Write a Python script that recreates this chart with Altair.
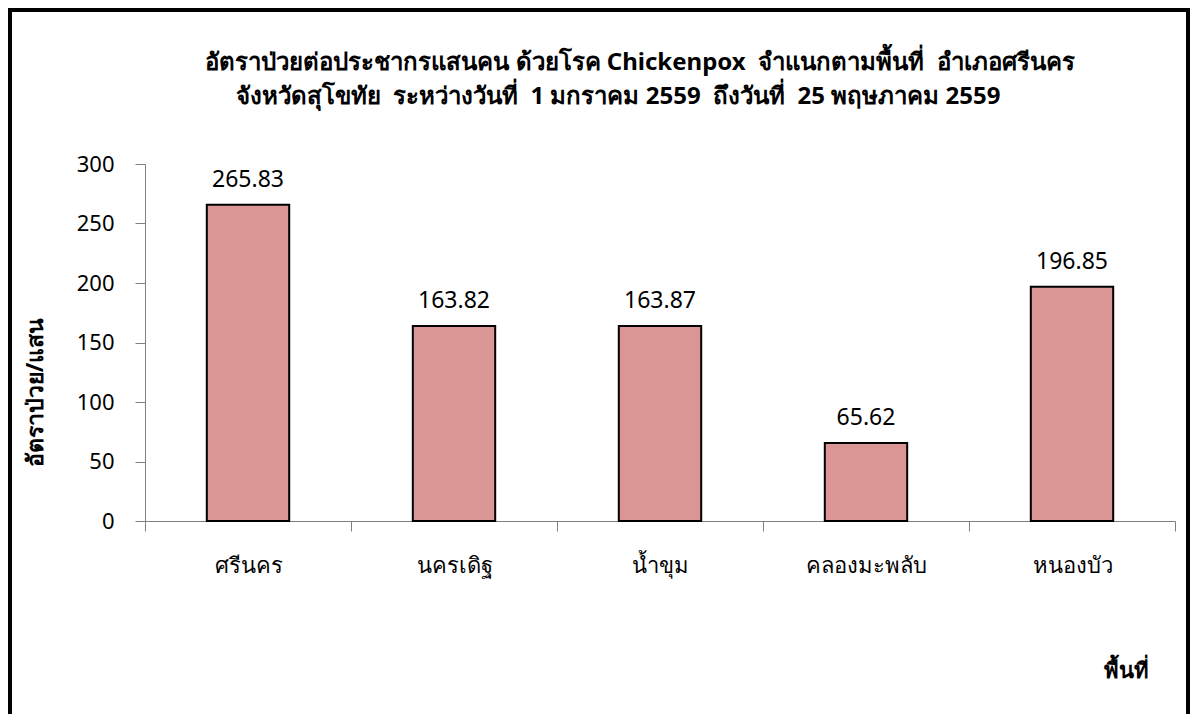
import altair as alt
import pandas as pd

areas = ["ศรีนคร", "นครเดิฐ", "น้ำขุม", "คลองมะพลับ", "หนองบัว"]
rates = [265.83, 163.82, 163.87, 65.62, 196.85]
y_ticks = [0, 50, 100, 150, 200, 250, 300]

NB = "\u00a0"
title_line1 = f"อัตราป่วยต่อประชากรแสนคน ด้วยโรค Chickenpox {NB}จำแนกตามพื้นที่ {NB}อำเภอศรีนคร"
title_line2 = f"จังหวัดสุโขทัย {NB}ระหว่างวันที่ {NB}1 มกราคม 2559 {NB}ถึงวันที่ {NB}25 พฤษภาคม 2559"
y_title = "อัตราป่วย/แสน"
x_title = "พื้นที่"

df = pd.DataFrame({"area": areas, "rate": rates})
df["label"] = [f"{v:.2f}" for v in rates]

FONT = "Noto Sans"
W, H = 1030, 357

x_enc = alt.X(
    "area:N",
    sort=areas,
    scale=alt.Scale(paddingInner=0, paddingOuter=0),
    axis=alt.Axis(
        title=x_title,
        titleX=981,
        titleY=149,
        titleBaseline="middle",
        titleFontSize=22,
        titleFontWeight="bold",
        titleColor="black",
        titleAnchor="middle",
        titleAlign="center",
        labelAngle=0,
        labelFontSize=22,
        labelColor="black",
        labelPadding=24,
        tickBand="extent",
        tickSize=10,
        tickColor="#808080",
        domainColor="#808080",
        labelFont=FONT,
        titleFont=FONT,
    ),
)

y_enc = alt.Y(
    "rate:Q",
    scale=alt.Scale(domain=[0, 300]),
    axis=alt.Axis(
        title=y_title,
        values=y_ticks,
        grid=False,
        tickSize=10,
        tickColor="#808080",
        domainColor="#808080",
        labelFontSize=22,
        labelColor="black",
        labelPadding=21,
        titleFontSize=23,
        titleFontWeight="bold",
        titleColor="black",
        titleX=-110,
        titleY=228,
        titleBaseline="middle",
        titleAnchor="middle",
        labelFont=FONT,
        titleFont=FONT,
    ),
)

bars = alt.Chart(df).mark_bar(
    color="#D99694", stroke="black", strokeWidth=2,
    width=alt.RelativeBandSize(0.4),
).encode(x=x_enc, y=y_enc)

labels = alt.Chart(df).mark_text(
    fontSize=23, font=FONT, color="black", baseline="alphabetic", dy=-18
).encode(x=alt.X("area:N", sort=areas), y="rate:Q", text="label:N")

one = pd.DataFrame({"k": [0]})

frame = alt.Chart(one).mark_rect(
    fill=None, fillOpacity=0, stroke="black", strokeWidth=4, clip=False
).encode(
    x=alt.value(-135), x2=alt.value(1043),
    y=alt.value(-154), y2=alt.value(600),
)

t1 = alt.Chart(one).mark_text(
    fontSize=24, fontWeight="bold", font=FONT, color="black",
    align="center", baseline="middle",
).encode(x=alt.value(495), y=alt.value(-101), text=alt.value(title_line1))

t2 = alt.Chart(one).mark_text(
    fontSize=24, fontWeight="bold", font=FONT, color="black",
    align="center", baseline="middle",
).encode(x=alt.value(473), y=alt.value(-67), text=alt.value(title_line2))

chart = alt.layer(frame, bars, labels, t1, t2).properties(
    width=W,
    height=H,
    autosize=alt.AutoSizeParams(type="none"),
    padding={"left": 137, "top": 156, "right": 15, "bottom": 193},
).configure(font=FONT).configure_view(stroke=None)

chart.save("out.html", embed_options={"renderer": "svg", "actions": False})
